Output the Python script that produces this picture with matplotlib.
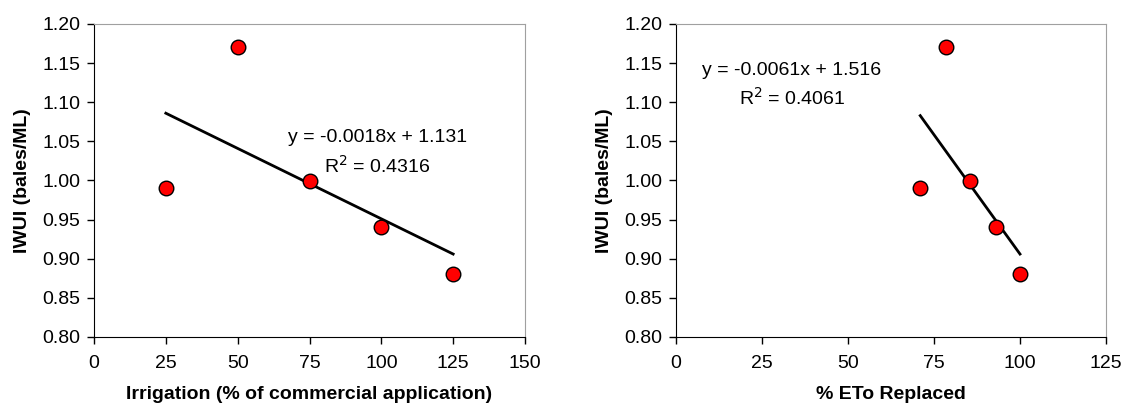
import numpy as np
import matplotlib.pyplot as plt

plt.rcParams['font.family'] = ['Liberation Sans', 'DejaVu Sans']

# left panel: irrigation level
irrig = [25, 50, 75, 100, 125]
iwui_irrig = [0.99, 1.17, 1.00, 0.94, 0.88]
fit_irrig = (-0.0018, 1.131, 0.4316)

# right panel: % ETo replaced
eto = [71, 78.5, 85.5, 93, 100]
iwui_eto = [0.99, 1.17, 1.00, 0.94, 0.88]
fit_eto = (-0.0061, 1.516, 0.4061)

fig = plt.figure(figsize=(11.25, 4.09), dpi=100)
ax1 = fig.add_axes([94/1125, 1 - 337/409, 431/1125, 313/409])
ax2 = fig.add_axes([676/1125, 1 - 337/409, 430/1125, 313/409])


def panel(ax, x, y, fit, xmax, xlabel, txt_xy):
    m, b, r2 = fit
    xs = np.array([min(x), max(x)])
    ax.plot(xs, m * xs + b, color='black', lw=2, zorder=2)
    ax.scatter(x, y, s=110, color='red', edgecolor='black', linewidth=1, zorder=3)
    ax.set_xlim(0, xmax)
    ax.set_ylim(0.80, 1.20)
    ax.set_xticks(np.arange(0, xmax + 1, 25))
    ax.set_yticks(np.arange(0.80, 1.201, 0.05))
    ax.set_yticklabels([f'{v:.2f}' for v in np.arange(0.80, 1.201, 0.05)])
    ax.tick_params(labelsize=14, direction='out', length=5, width=1)
    ax.tick_params(axis='x', pad=8)
    ax.tick_params(axis='y', pad=5)
    for s in ['top', 'right']:
        ax.spines[s].set_color('#a0a0a0')
    ax.set_ylabel('IWUI (bales/ML)', fontsize=14, fontweight='bold', labelpad=8)
    ax.set_xlabel(xlabel, fontsize=14, fontweight='bold', labelpad=10)
    tx, ty = txt_xy
    ax.text(tx, ty, f'y = {m}x + {b}', fontsize=14, ha='center', va='center')
    ax.text(tx, ty - 0.036, f'R$^2$ = {r2}', fontsize=14, ha='center', va='center')


panel(ax1, irrig, iwui_irrig, fit_irrig, 150,
      'Irrigation (% of commercial application)', (98.6, 1.055))
panel(ax2, eto, iwui_eto, fit_eto, 125, '% ETo Replaced', (33.7, 1.141))

fig.savefig('out.png', dpi=100)
